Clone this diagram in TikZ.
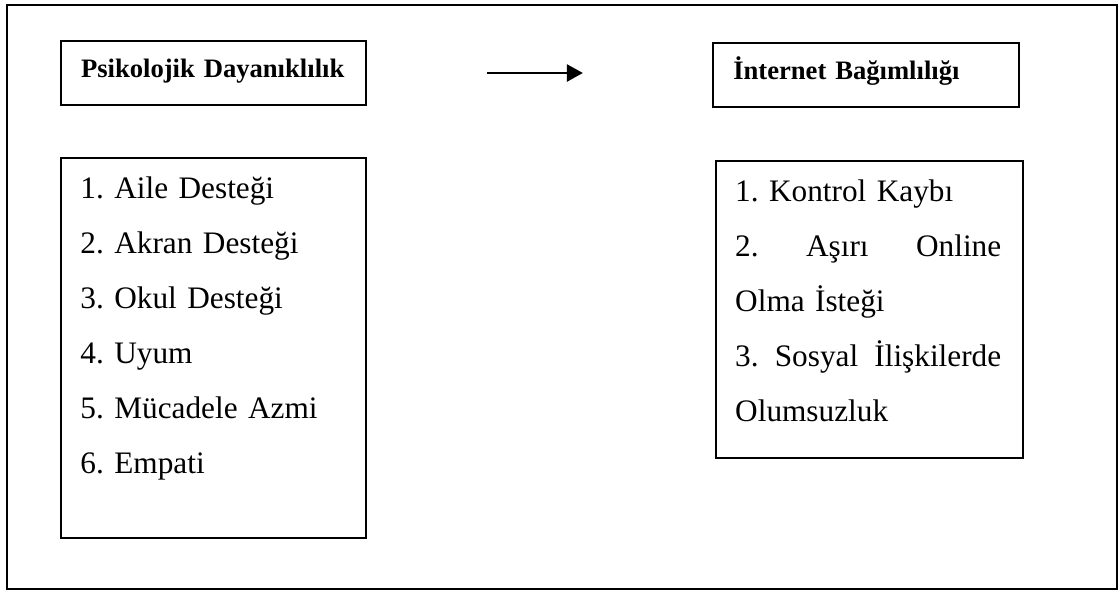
\documentclass[tikz,border=0pt]{standalone}
\usepackage{fontspec}
\setmainfont{Liberation Serif}
\usepackage{tikz}
\usetikzlibrary{positioning, arrows.meta}
\frenchspacing

\begin{document}
\begin{tikzpicture}
	\tikzstyle{header} = [rectangle, draw=black, line width=0.035cm, 
	minimum width=6.1cm, minimum height=1.28cm, text width=5.3cm, 
	inner xsep=0.4cm, inner ysep=0pt, align=left, text height=0.36cm, 
	text depth=0.18cm, font=\fontsize{15.15pt}{18pt}\selectfont\bfseries]
	\tikzstyle{listbox} = [rectangle, draw=black, line width=0.035cm, 
	minimum width=6.1cm, inner sep=0pt]
	\tikzstyle{listtext} = [inner sep=0pt, text width=5.32cm, align=left, 
	font=\fontsize{17.8pt}{1.1cm}\selectfont]
	\tikzstyle{arrow} = [line width=0.05cm, -{Triangle[length=0.32cm, width=0.34cm]}]
	\useasboundingbox (0,0) rectangle (22.36,-11.8);
	\draw [line width=0.04cm] (0.14,-0.10) rectangle (22.34,-11.77);
	\node (psiko) [header] at (4.27,-1.46) {Psikolojik Dayanıklılık};
	\node (intern) [header, minimum width=6.12cm, right=6.9cm of psiko, yshift=-0.04cm] {İnternet Bağımlılığı};
	\node (listP) [listbox, minimum height=7.6cm, below=1.02cm of psiko] {};
	\node (listI) [listbox, minimum width=6.14cm, minimum height=5.94cm, below=1.04cm of intern, xshift=0.07cm] {};
	\node (listPText) [listtext, below right=0.05cm and 0.4cm of listP.north west] {\strut 1. Aile Desteği\\
		2. Akran Desteği\\
		3. Okul Desteği\\
		4. Uyum\\
		5. Mücadele Azmi\\
		6. Empati};
	\node (listIText) [listtext, below right=0.05cm and 0.4cm of listI.north west] {\strut 1. Kontrol Kaybı\\
		2.\hfill Aşırı\hfill Online\\
		Olma İsteği\\
		3.\hfill Sosyal\hfill İlişkilerde\\
		Olumsuzluk};
	\coordinate (arrowStart) at ([xshift=2.4cm]psiko.east);
	\coordinate (arrowEnd) at ([xshift=1.92cm]arrowStart);
	\draw [arrow] (arrowStart) -- (arrowEnd);
\end{tikzpicture}
\end{document}
